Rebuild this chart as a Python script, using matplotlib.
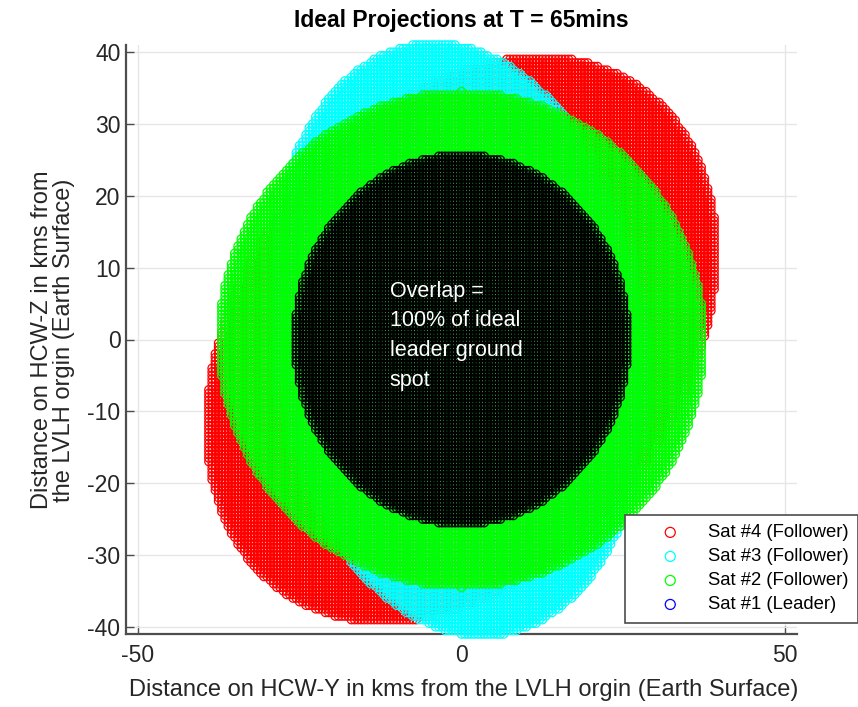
import numpy as np
import matplotlib
matplotlib.use("Agg")
import matplotlib.pyplot as plt

plt.rcParams.update({
    "font.family": ["Liberation Sans", "DejaVu Sans"],
    "axes.spines.top": False,
    "axes.spines.right": False,
    "axes.unicode_minus": False,
})

# ---- ground spot footprints (km, LVLH frame) ----
sat_names = ["Sat #4 (Follower)", "Sat #3 (Follower)", "Sat #2 (Follower)", "Sat #1 (Leader)"]
sat_colors = ["#ff0000", "#00ffff", "#00ff00", "#0000ff"]
centre_y = [0.0, -0.5, 0.0, 0.0]
centre_z = [0.0, 0.0, 0.0, 0.0]
semi_major = [45.0, 41.6, 37.4, 25.8]
semi_minor = [32.8, 29.0, 34.5, 25.8]
tilt_deg = [45.0, 100.0, 0.0, 0.0]
draw_order = [2, 3, 4, 1]   # leader sits underneath, only the overlap shows
grid_step = 0.5  # km between sampled ground points

overlap_pct = 100

fig = plt.figure(figsize=(8.58, 7.07), dpi=100)
ax = fig.add_axes([126/858, 1 - 634/707, 671/858, 589/707])

gy, gz = np.meshgrid(np.arange(-50, 50 + grid_step/2, grid_step),
                     np.arange(-45, 45 + grid_step/2, grid_step))
gy, gz = gy.ravel(), gz.ravel()

def spot_points(i):
    th = np.radians(tilt_deg[i])
    dy, dz = gy - centre_y[i], gz - centre_z[i]
    u = dy*np.cos(th) + dz*np.sin(th)
    v = -dy*np.sin(th) + dz*np.cos(th)
    inside = (u/semi_major[i])**2 + (v/semi_minor[i])**2 <= 1
    return gy[inside], gz[inside]

for i in range(4):
    py, pz = spot_points(i)
    ax.scatter(py, pz, s=36, facecolors="none", edgecolors=sat_colors[i],
               linewidths=0.9, label=sat_names[i], clip_on=False,
               zorder=draw_order[i])

# overlap of all footprints = leader spot
py, pz = spot_points(3)
ax.scatter(py, pz, s=36, facecolors="none", edgecolors="black",
           linewidths=0.9, clip_on=False, zorder=5)

ax.text(-11.1, 8.2, f"Overlap =\n{overlap_pct}% of ideal\nleader ground\nspot",
        color="white", fontsize=15.5, ha="left", va="top", linespacing=1.55,
        zorder=8)

ax.set_xlim(-51.8, 51.8)
ax.set_ylim(-41, 41)
ax.set_xticks([-50, 0, 50])
ax.set_yticks(range(-40, 41, 10))
ax.grid(True, color="#e6e6e6", linewidth=1)
ax.set_axisbelow(True)
ax.tick_params(direction="in", length=6, width=1, colors="#4d4d4d",
               labelcolor="#262626", labelsize=16.5, pad=4)
ax.tick_params(axis="x", pad=7)
for sp in ("left", "bottom"):
    ax.spines[sp].set_color("#4d4d4d")
    ax.spines[sp].set_linewidth(1.6)

fig.text(461/858, 1 - 20/707, "Ideal Projections at T = 65mins",
         ha="center", va="center", fontsize=16.5, fontweight="bold")
fig.text(464/858, 1 - 690/707,
         "Distance on HCW-Y in kms from the LVLH orgin (Earth Surface)",
         ha="center", va="center", fontsize=17, color="#262626")
fig.text(53/858, 1 - 340/707,
         "Distance on HCW-Z in kms from\nthe LVLH orgin (Earth Surface)",
         ha="center", va="center", rotation=90, fontsize=17, color="#262626",
         linespacing=1.05)

leg = ax.legend(loc="upper left", bbox_to_anchor=(625/858, 1 - 515/707),
                bbox_transform=fig.transFigure, fontsize=13.3, frameon=True,
                fancybox=False, framealpha=1, edgecolor="#4d4d4d",
                borderaxespad=0, handletextpad=0.1, borderpad=0.5,
                labelspacing=0.38, handlelength=3.9,
                scatterpoints=1, markerscale=1.2)
leg.get_frame().set_linewidth(1.2)
leg.set_zorder(10)
for h in leg.legend_handles:
    h.set_linewidths(0.9)

fig.savefig("out.png", dpi=100)
